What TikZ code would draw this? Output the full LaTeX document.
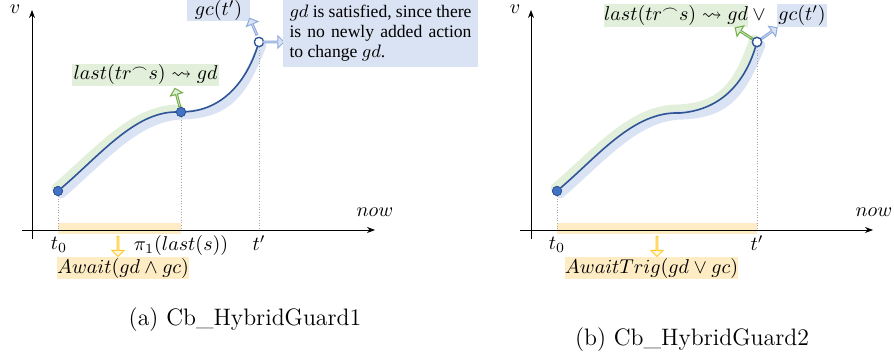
\documentclass[tikz,border=0pt]{standalone}
\usepackage{amssymb}
\usepackage{fontspec}
\newfontfamily\boxfont{Liberation Serif}
\usetikzlibrary{shapes.arrows,arrows.meta}
\definecolor{curveblue}{RGB}{47,85,151}
\definecolor{ptblue}{RGB}{68,114,196}
\definecolor{hlgreen}{RGB}{226,239,218}
\definecolor{hlblue}{RGB}{218,227,243}
\definecolor{hlorange}{RGB}{254,236,196}
\definecolor{argreen}{RGB}{112,173,71}
\definecolor{arblue}{RGB}{143,170,220}
\definecolor{aryellow}{RGB}{255,200,40}
\definecolor{aryfill}{RGB}{255,246,220}
\tikzset{
  axis/.style={line width=0.4pt,-{Stealth[length=4pt,width=3pt]}},
  guide/.style={gray!70,densely dotted,line width=0.35pt},
  curve/.style={curveblue,line width=0.8pt},
  hlg/.style={hlgreen,line width=4.5pt,line cap=round},
  hlb/.style={hlblue,line width=4.5pt,line cap=round},
  band/.style={fill=hlorange,draw=none},
  fullpt/.style={circle,fill=ptblue,draw=curveblue,line width=0.4pt,inner sep=0pt,minimum size=4.6pt},
  openpt/.style={circle,fill=white,draw=curveblue,line width=0.6pt,inner sep=0pt,minimum size=4.6pt},
  blockarrow/.style={single arrow,inner sep=0pt,minimum width=6.2pt,single arrow head extend=1.4pt,single arrow head indent=0pt,line width=0.5pt},
  garrow/.style={blockarrow,draw=argreen,fill=hlgreen},
  barrow/.style={blockarrow,draw=arblue,fill=hlblue},
  yarrow/.style={blockarrow,draw=aryellow,fill=aryfill},
  lab/.style={inner sep=0pt,font=\fontsize{10}{12}\selectfont},
  gbox/.style={fill=hlgreen,inner sep=0pt,font=\fontsize{10}{12}\selectfont},
  bbox/.style={fill=hlblue,inner sep=0pt,font=\fontsize{10}{12}\selectfont},
  obox/.style={fill=hlorange,inner sep=0pt,font=\fontsize{9.6}{12}\selectfont},
  captext/.style={inner sep=0pt,font=\fontsize{11.9}{14}\selectfont},
}
\begin{document}
\begin{tikzpicture}[x=0.5pt,y=-0.5pt]
\useasboundingbox (0,0) rectangle (894,358);
% ================= left panel =================
\fill[band] (58,223) rectangle (181,234);
\coordinate (ya0) at (32,239); \coordinate (ya1) at (32,10);
\coordinate (xa0) at (22,230); \coordinate (xa1) at (375,230);
\draw[axis] (ya0) -- (ya1);
\draw[axis] (xa0) -- (xa1);
\node[lab] (lv) at (15,9) {$v$};
\node[lab] (lnow) at (375,212) {$now$};
% highlights
\draw[hlg] (56,188) .. controls (98,152) and (133,109) .. (179,109);
\draw[hlb] (61,194) .. controls (103,158) and (138,115) .. (184,115)
  .. controls (228,113) and (243,93) .. (262,45);
% guides
\coordinate (g0) at (58,230); \coordinate (g1) at (181,230); \coordinate (g2) at (259,230);
\node[fullpt] (a0) at (58,191) {};
\node[fullpt] (a1) at (181,112) {};
\node[openpt] (a2) at (259,42) {};
\draw[guide] (a0) -- (g0);
\draw[guide] (a1) -- (g1);
\draw[guide] (a2) -- (g2);
\draw[curve] (a0) .. controls (100,155) and (135,112) .. (a1)
  .. controls (220,110) and (245,85) .. (a2);
\node[fullpt] at (a0) {};
\node[fullpt] at (a1) {};
\node[openpt] at (a2) {};
% labels
\node[lab] (lt0) at (59,245) {$t_0$};
\node[lab] (lpi) at (181,245) {$\pi_1(last(s))$};
\node[lab] (ltp) at (259,243) {$t'$};
\node[yarrow,minimum height=10pt,rotate=-90] (ya) at (118,246) {};
\node[obox,minimum width=64pt,minimum height=11pt] (await) at (123,268) {$Await(gd \wedge gc)$};
\node[gbox,minimum width=73.5pt,minimum height=11pt] (gl) at (145.5,75) {$last(tr^\frown s) \rightsquigarrow gd$};
\node[garrow,minimum height=9.5pt,rotate=105] (ga) at (177.5,98) {};
\node[bbox,minimum width=31.5pt,minimum height=10pt] (gcl) at (218.5,10.5) {$gc(t')$};
\node[barrow,minimum height=9pt,rotate=113] (bau) at (253.5,27) {};
\node[barrow,minimum height=10.5pt] (bar) at (273,42) {};
\node[bbox,minimum width=97.5pt,minimum height=33.5pt] (note) at (380.5,33.5)
  {\parbox{91pt}{\boxfont\fontsize{8.8}{10}\selectfont $gd$ is satisfied, since there is no newly added action to change $gd$.}};
\node[captext] (capa) at (245,320) {(a) Cb\_HybridGuard1};
% ================= right panel =================
\fill[band] (557,223) rectangle (757,234);
\coordinate (yb0) at (531,239); \coordinate (yb1) at (531,10);
\coordinate (xb0) at (520,230); \coordinate (xb1) at (873,230);
\draw[axis] (yb0) -- (yb1);
\draw[axis] (xb0) -- (xb1);
\node[lab] (rv) at (515,9) {$v$};
\node[lab] (rnow) at (874,212) {$now$};
\draw[hlg] (555,188) .. controls (597,152) and (632,109) .. (678,109)
  .. controls (722,107) and (738,86) .. (754,39);
\draw[hlb] (560,194) .. controls (602,158) and (637,115) .. (683,115)
  .. controls (727,113) and (742,93) .. (761,45);
\coordinate (h0) at (557,230); \coordinate (h2) at (757,230);
\node[fullpt] (b0) at (557,191) {};
\coordinate (b1) at (680,113);
\node[openpt] (b2) at (757,42) {};
\draw[guide] (b0) -- (h0);
\draw[guide] (b2) -- (h2);
\draw[curve] (b0) .. controls (599,155) and (634,111) .. (b1)
  .. controls (719,110) and (744,85) .. (b2);
\node[fullpt] at (b0) {};
\node[openpt] at (b2) {};
\node[lab] (rt0) at (557,245) {$t_0$};
\node[lab] (rtp) at (757,243) {$t'$};
\node[yarrow,minimum height=10pt,rotate=-90] (yb) at (657,246) {};
\node[obox,minimum width=85.5pt,minimum height=11pt] (awaitt) at (651.5,268) {$AwaitTrig(gd \vee gc)$};
\node[gbox,minimum width=69pt,minimum height=11.5pt] (gr) at (676,15.5) {$last(tr^\frown s) \rightsquigarrow gd$};
\node[lab] (orr) at (759,15) {$\vee$};
\node[bbox,minimum width=25pt,minimum height=11.5pt] (gcr) at (802,15.5) {$gc(t')$};
\node[garrow,minimum height=10pt,rotate=147] (gar) at (744,33.5) {};
\node[barrow,minimum height=9.5pt,rotate=35] (bar2) at (769,33.5) {};
\node[openpt] at (b2) {};
\node[captext] (capb) at (692,340) {(b) Cb\_HybridGuard2};
\end{tikzpicture}
\end{document}
